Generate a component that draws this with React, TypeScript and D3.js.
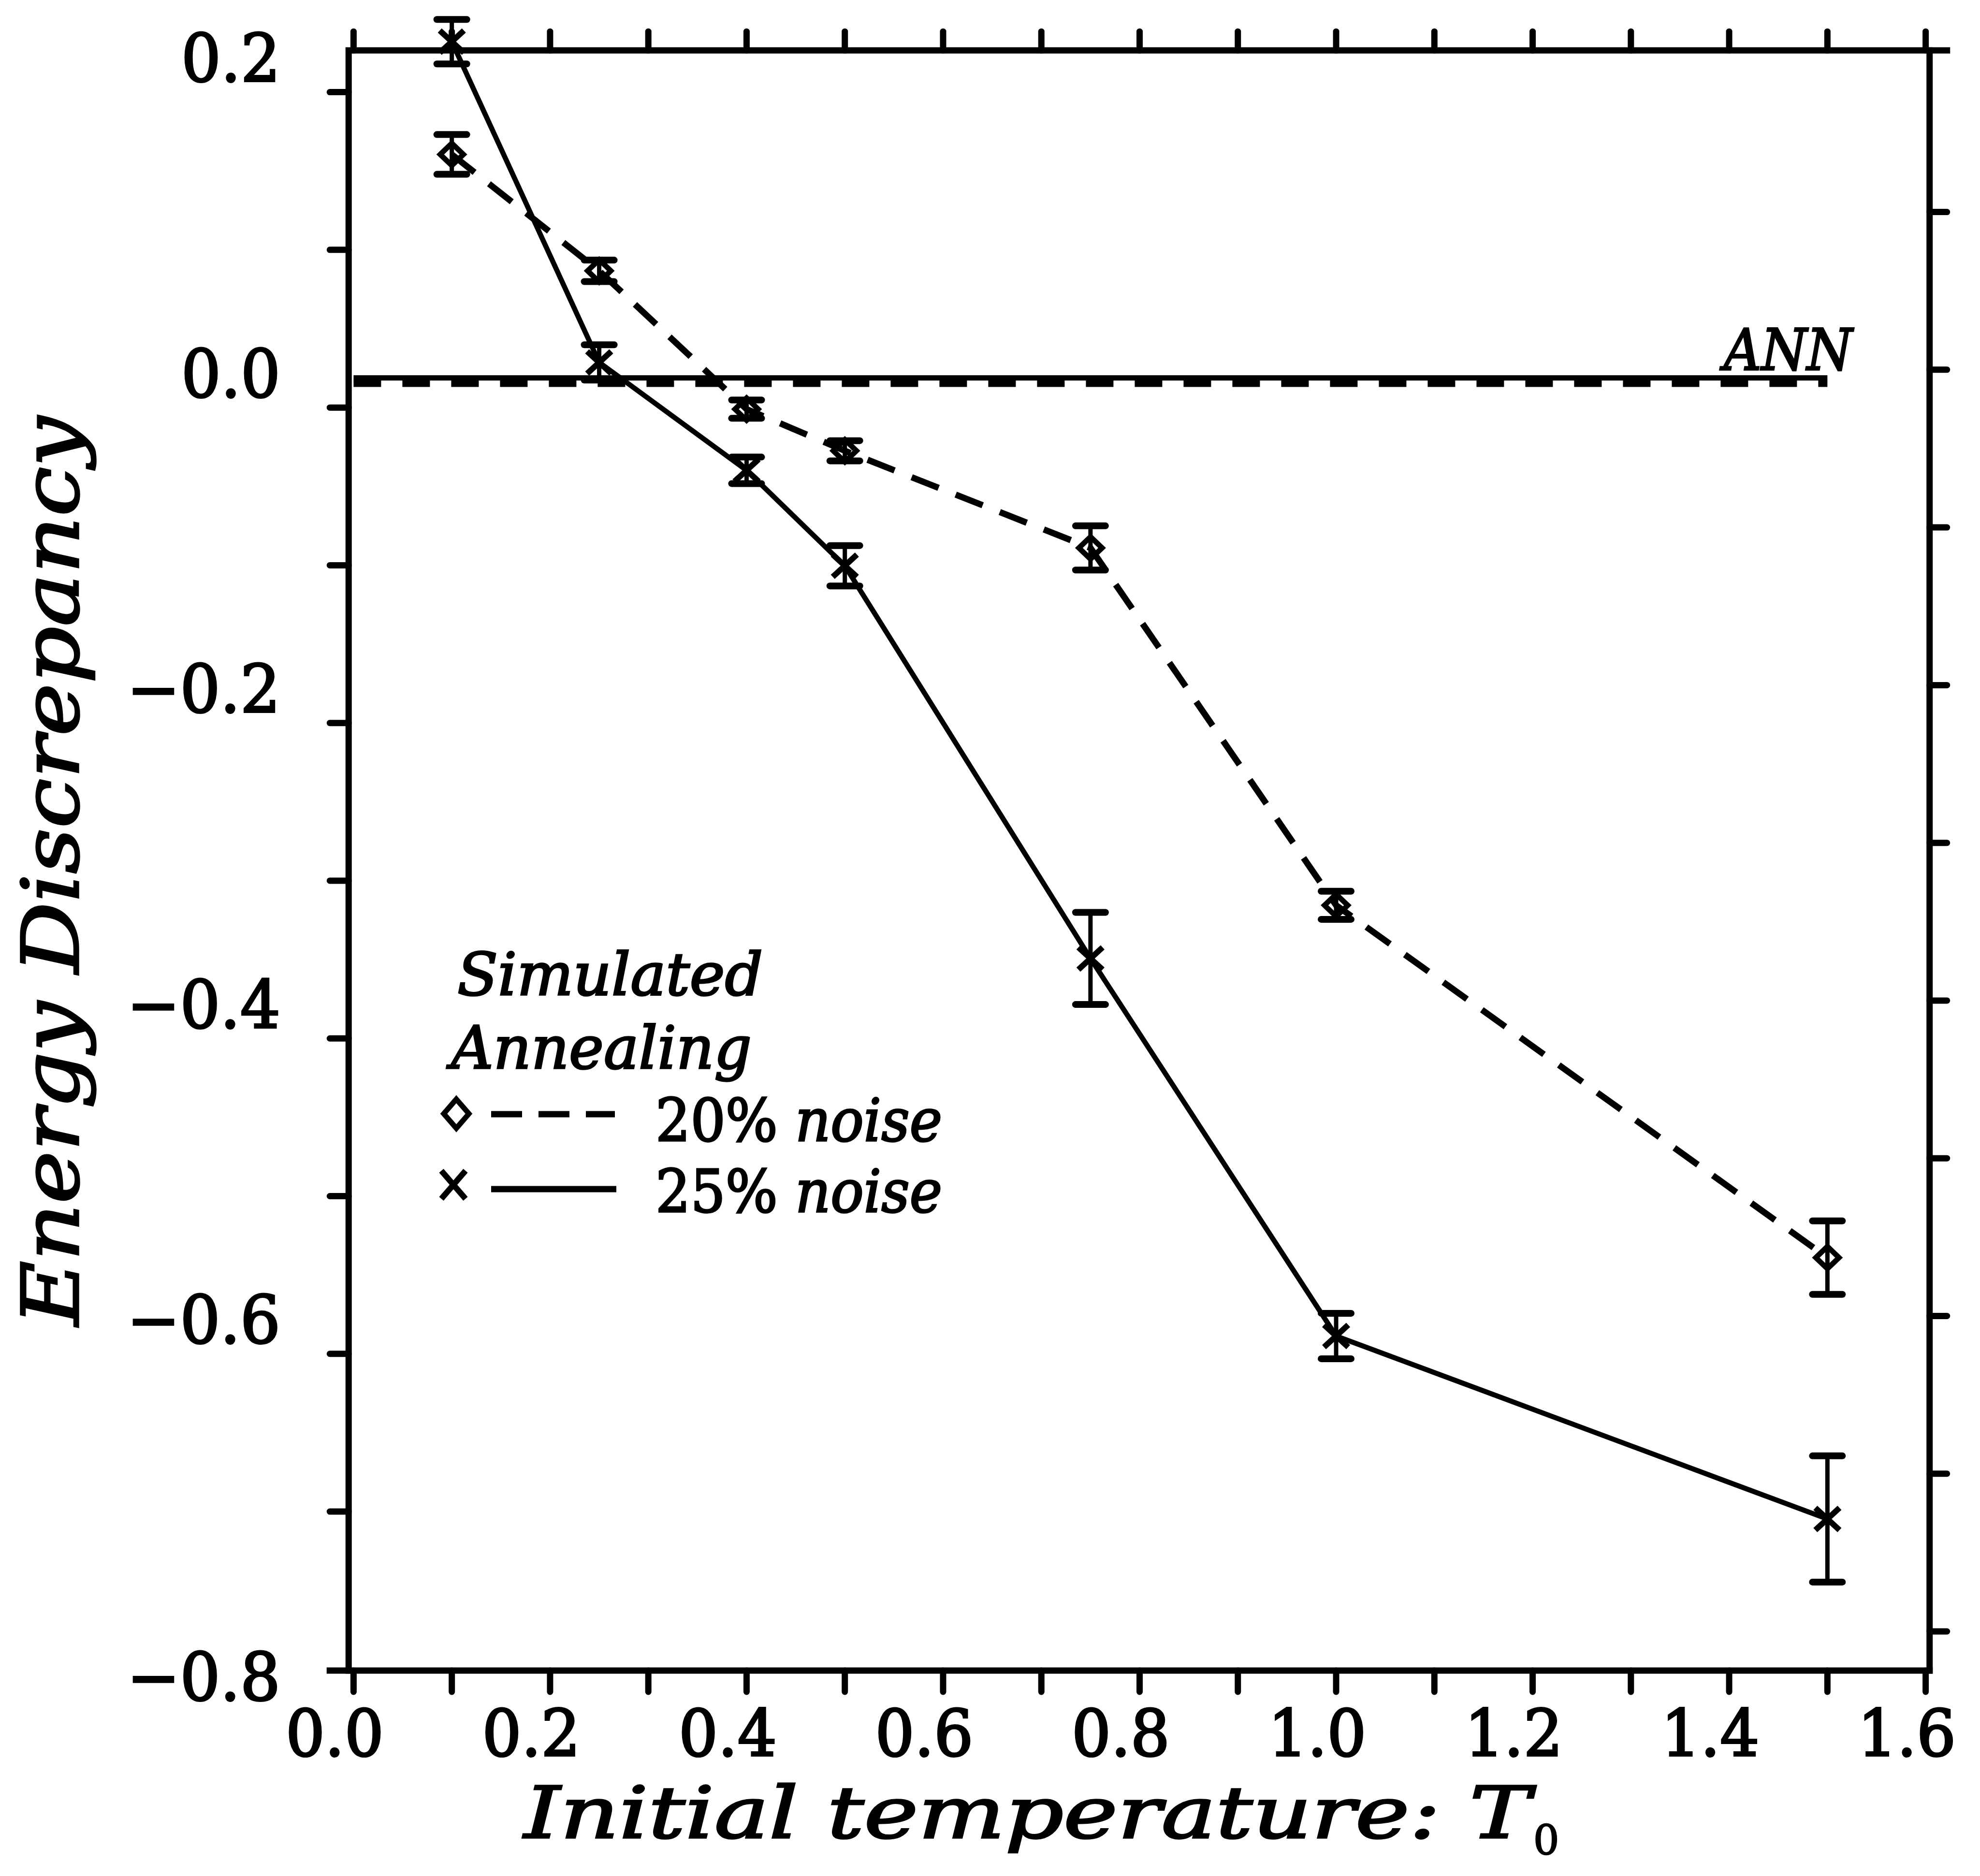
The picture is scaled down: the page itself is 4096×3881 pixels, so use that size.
import React from "react";
import * as d3 from "d3";

// ---------- data ----------
const temps = [0.1, 0.25, 0.4, 0.5, 0.75, 1.0, 1.5];
const noise20 = [0.1365, 0.0627, -0.025, -0.0514, -0.113, -0.3396, -0.563];
const noise20Err = [0.0126, 0.0068, 0.0058, 0.0064, 0.014, 0.0089, 0.0233];
const noise25 = [0.208, 0.0046, -0.0638, -0.1243, -0.3733, -0.6127, -0.7287];
const noise25Err = [0.0141, 0.0112, 0.0084, 0.0128, 0.0292, 0.0144, 0.04];
const annNoise20 = -0.0088;
const annNoise25 = -0.0052;
const annSpan = [0.0, 1.5];

const xTickValues = [0, 0.2, 0.4, 0.6, 0.8, 1.0, 1.2, 1.4, 1.6];
const xTickLabels = ["0.0", "0.2", "0.4", "0.6", "0.8", "1.0", "1.2", "1.4", "1.6"];
const xMinorValues = d3.range(0, 17).map((i) => i / 10);
const yTickValues = [0.2, 0.0, -0.2, -0.4, -0.6, -0.8];
const yTickLabels = ["0.2", "0.0", "\u22120.2", "\u22120.4", "\u22120.6", "\u22120.8"];
const yRightTicks = d3.range(1, 11).map((i) => 0.2 - i / 10);
const yLeftTicks = d3.range(0, 10).map((i) => 0.2 - i / 10);
const yLeftTickShift = -0.024;

// frame extents in data units
const frameX = [-0.005, 1.604];
const frameY = [-0.8248, 0.2025];

const W = 4096;
const H = 3881;
const FONT = "'DejaVu Serif', 'Liberation Serif', serif";

const x = d3.scaleLinear().domain([0, 1.6]).range([731.4, 3983.6]);
const y = d3.scaleLinear().domain([-0.8, 0.2]).range([3375, 112.3]);

const LX = x(frameX[0]);
const RX = x(frameX[1]);
const TY = y(frameY[1]);
const BY = y(frameY[0]);

const AX = 13; // axis stroke

function diamondPath(cx: number, cy: number, w: number, h: number) {
  return `M${cx},${cy - h}L${cx + w},${cy}L${cx},${cy + h}L${cx - w},${cy}Z`;
}
function crossPath(cx: number, cy: number, w: number, h: number) {
  return `M${cx - w},${cy - h}L${cx + w},${cy + h}M${cx - w},${cy + h}L${cx + w},${cy - h}`;
}

export default function App() {
  const line = d3
    .line<number>()
    .x((_, i) => x(temps[i]))
    .y((d) => y(d));

  const errBars = (vals: number[], errs: number[], key: string) =>
    vals.map((v, i) => {
      const cx = x(temps[i]);
      const y1 = y(v + errs[i]);
      const y2 = y(v - errs[i]);
      return (
        <g key={key + i}>
          <line x1={cx} x2={cx} y1={y1} y2={y2} stroke="#000" strokeWidth={9} />
          <line x1={cx - 31} x2={cx + 31} y1={y1} y2={y1} stroke="#000" strokeWidth={14} strokeLinecap="round" />
          <line x1={cx - 31} x2={cx + 31} y1={y2} y2={y2} stroke="#000" strokeWidth={14} strokeLinecap="round" />
        </g>
      );
    });

  return (
    <svg
      width={W}
      height={H}
      viewBox={`0 0 ${W} ${H}`}
      style={{ position: "absolute", left: 0, top: 0, background: "#fff" }}
    >
      <rect x={0} y={0} width={W} height={H} fill="#fff" />
      {/* frame */}
      <g stroke="#000" strokeWidth={AX} fill="none" strokeLinecap="square">
        <line x1={LX} x2={LX} y1={TY} y2={BY} />
        <line x1={LX - 39} x2={RX} y1={BY} y2={BY} />
        <line x1={x(0)} x2={RX + 36} y1={TY} y2={TY} />
        <line x1={RX} x2={RX} y1={TY} y2={BY} />
      </g>
      {/* ticks */}
      <g stroke="#000" strokeWidth={AX} strokeLinecap="round">
        {xMinorValues.map((t) => (
          <line key={"b" + t} x1={x(t)} x2={x(t)} y1={BY} y2={BY + 44} />
        ))}
        {xMinorValues.map((t) => (
          <line key={"t" + t} x1={x(t)} x2={x(t)} y1={TY - 39} y2={TY} />
        ))}
        {yLeftTicks.map((v) => (
          <line key={"l" + v} x1={LX - 39} x2={LX} y1={y(v + yLeftTickShift)} y2={y(v + yLeftTickShift)} />
        ))}
        {yRightTicks.map((v) => (
          <line key={"r" + v} x1={RX} x2={RX + 36} y1={y(v)} y2={y(v)} />
        ))}
      </g>

      {/* ANN reference lines */}
      <line
        x1={x(annSpan[0])}
        x2={x(annSpan[1])}
        y1={y(annNoise20)}
        y2={y(annNoise20)}
        stroke="#000"
        strokeWidth={14}
        strokeDasharray="57 44"
      />
      <line
        x1={x(annSpan[0])}
        x2={x(annSpan[1])}
        y1={y(annNoise25)}
        y2={y(annNoise25)}
        stroke="#000"
        strokeWidth={11}
      />

      {/* series lines */}
      <path d={line(noise20) || ""} fill="none" stroke="#000" strokeWidth={13} strokeDasharray="60 38" />
      <path d={line(noise25) || ""} fill="none" stroke="#000" strokeWidth={10.5} strokeLinejoin="round" />

      {/* error bars */}
      {errBars(noise20, noise20Err, "e20")}
      {errBars(noise25, noise25Err, "e25")}

      {/* markers */}
      {noise20.map((v, i) => (
        <path key={"d" + i} d={diamondPath(x(temps[i]), y(v), 24, 23)} fill="none" stroke="#000" strokeWidth={11} />
      ))}
      {noise25.map((v, i) => (
        <path key={"x" + i} d={crossPath(x(temps[i]), y(v), 25, 23)} fill="none" stroke="#000" strokeWidth={12} />
      ))}

      {/* y tick labels */}
      <g fontFamily={FONT} fontSize={136} fill="#000" stroke="#000" strokeWidth={4} textAnchor="end">
        {yTickValues.map((v, i) => {
          const last = i === yTickValues.length - 1;
          const base = last ? BY + 61 : y(v) + 56;
          const lbl = yTickLabels[i];
          return (
            <text key={"yl" + i} x={580} y={base} textLength={lbl.length > 3 ? 317 : 205} lengthAdjust="spacingAndGlyphs">
              {lbl}
            </text>
          );
        })}
      </g>
      {/* x tick labels */}
      <g fontFamily={FONT} fontSize={133} fill="#000" stroke="#000" strokeWidth={4} textAnchor="middle">
        {xTickValues.map((v, i) => (
          <text key={"xl" + i} x={x(v) - 39} y={3632} textLength={203} lengthAdjust="spacingAndGlyphs">
            {xTickLabels[i]}
          </text>
        ))}
      </g>

      {/* axis titles */}
      <g fill="#000" stroke="#000" strokeWidth={3.5} fontFamily={FONT} fontStyle="italic">
        <text
          transform="translate(162,1802) rotate(-90)"
          fontSize={162}
          textAnchor="middle"
          textLength={1881}
          lengthAdjust="spacingAndGlyphs"
        >
          Energy Discrepancy
        </text>
        <text x={1084} y={3802} fontSize={148} textLength={2082} lengthAdjust="spacingAndGlyphs">
          Initial temperature: T
        </text>
      </g>
      <text x={3172} y={3836} fontFamily={FONT} fontSize={84} stroke="#000" strokeWidth={2.5}>
        0
      </text>

      {/* ANN label */}
      <text
        x={3566}
        y={765}
        fontFamily={FONT}
        fontStyle="italic"
        fontSize={118}
        stroke="#000"
        strokeWidth={3.5}
        textLength={266}
        lengthAdjust="spacingAndGlyphs"
      >
        ANN
      </text>

      {/* legend */}
      <g fontFamily={FONT} fontSize={122} fill="#000" stroke="#000" strokeWidth={3.5}>
        <text x={946} y={2058} fontStyle="italic" textLength={632} lengthAdjust="spacingAndGlyphs">
          Simulated
        </text>
        <text x={933} y={2210} fontStyle="italic" textLength={622} lengthAdjust="spacingAndGlyphs">
          Annealing
        </text>
        <text x={1356} y={2360} textLength={593} lengthAdjust="spacingAndGlyphs">
          20% <tspan fontStyle="italic">noise</tspan>
        </text>
        <text x={1356} y={2507} textLength={593} lengthAdjust="spacingAndGlyphs">
          25% <tspan fontStyle="italic">noise</tspan>
        </text>
      </g>
      <path d={diamondPath(944, 2304, 26, 30)} fill="none" stroke="#000" strokeWidth={11} />
      <line x1={1016} x2={1272} y1={2305} y2={2305} stroke="#000" strokeWidth={13} strokeDasharray="64 34" />
      <path d={crossPath(938, 2451, 25, 29)} fill="none" stroke="#000" strokeWidth={12} />
      <line x1={1016} x2={1275} y1={2460} y2={2460} stroke="#000" strokeWidth={13} />
    </svg>
  );
}
